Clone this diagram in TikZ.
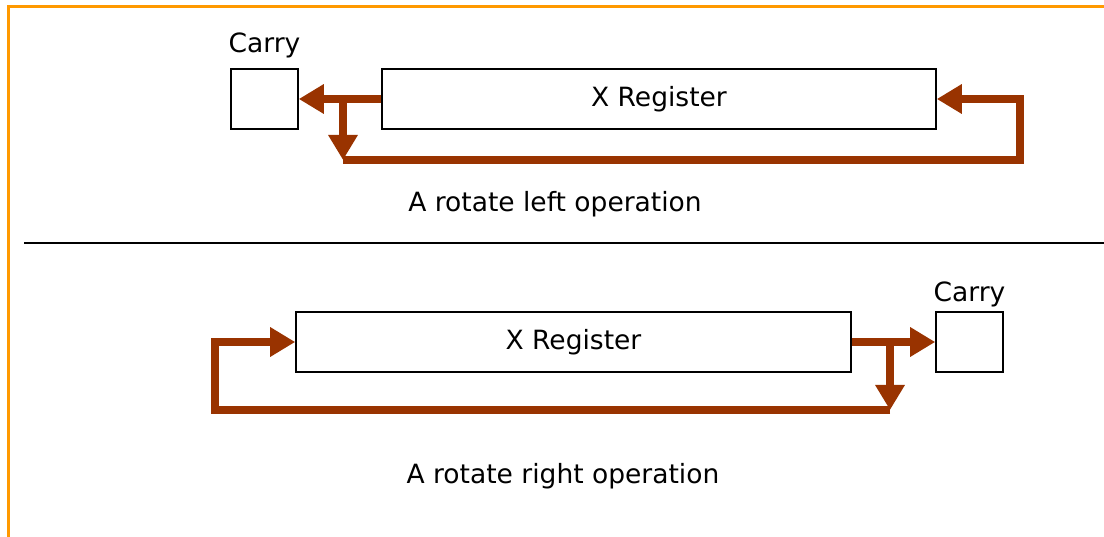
\documentclass[tikz,border=0pt]{standalone}
\usepackage{fontspec}
\setmainfont{DejaVu Sans}
\usetikzlibrary{arrows.meta,positioning}
\definecolor{rotBrown}{HTML}{993300}
\definecolor{rotFrame}{HTML}{FF9900}

\begin{document}
\begin{tikzpicture}[x=1pt,y=-1pt,>={Triangle[length=25pt,width=28pt]},line join=miter]
\useasboundingbox[fill=white] (0,0) rectangle (1104,537);
\tikzset{reg/.style={draw=black,line width=1.6pt,fill=white,inner sep=0pt,minimum height=60pt,font=\fontsize{26.5}{30}\selectfont,text=black},flow/.style={draw=rotBrown,line width=7.5pt},caption/.style={anchor=base,font=\fontsize{26.5}{30}\selectfont,text=black}}
\draw[rotFrame,line width=3pt] (8,537) -- (8,7) -- (1104,7);
% rotate left
\node[reg,minimum width=67pt] (carryL) at (264.5,99) {};
\node[reg,minimum width=554pt] (regL) at (659,99) {X Register};
\node[caption] (carryLtxt) at (264.5,53) {Carry};
\coordinate (tapL) at (343,99); \coordinate (footL) at (343,160); \coordinate (cornerL) at (1020,160);
\draw[flow,->] (regL.west) -- (carryL.east);
\draw[flow,->] (tapL) -- (footL);
\draw[flow,->] (footL) -- (cornerL) |- (regL.east);
\node[caption] (capL) at (555,212) {A rotate left operation};
\draw[black,line width=1.6pt] (24,243) -- (1104,243);
% rotate right
\node[reg,minimum width=555pt] (regR) at (573.5,342) {X Register};
\node[reg,minimum width=67pt] (carryR) at (969.5,342) {};
\node[caption] (carryRtxt) at (969.5,302) {Carry};
\coordinate (tapR) at (890,342); \coordinate (footR) at (890,410); \coordinate (cornerR) at (215,410);
\draw[flow,->] (regR.east) -- (carryR.west);
\draw[flow,->] (tapR) -- (footR);
\draw[flow,->] (footR) -- (cornerR) |- (regR.west);
\node[caption] (capR) at (563,483) {A rotate right operation};
\end{tikzpicture}
\end{document}
